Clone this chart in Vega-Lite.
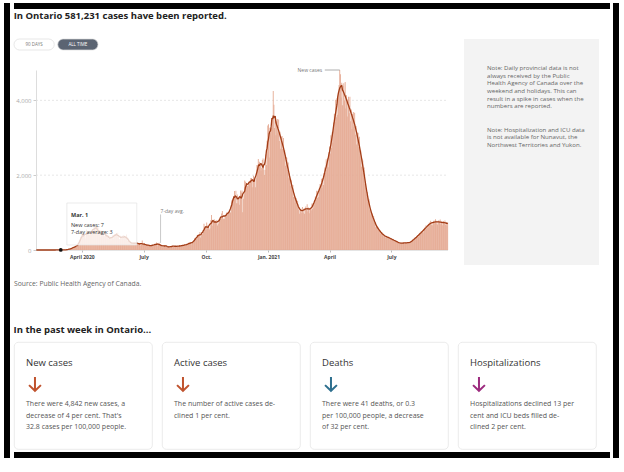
{
  "$schema": "https://vega.github.io/schema/vega-lite/v6.json",
  "padding": {"left": 4, "top": 3, "right": 2, "bottom": 2},
  "background": "#ffffff",
  "config": {"font": "Open Sans", "view": {"stroke": null}},
  "datasets": {
    "cases": [
      {"d":"2020-01-25","n":1},{"d":"2020-01-26","n":0},{"d":"2020-01-27","n":0},{"d":"2020-01-28","n":0},{"d":"2020-01-29","n":0},{"d":"2020-01-30","n":0},{"d":"2020-01-31","n":1},
      {"d":"2020-02-01","n":0},{"d":"2020-02-02","n":0},{"d":"2020-02-03","n":0},{"d":"2020-02-04","n":0},{"d":"2020-02-05","n":0},{"d":"2020-02-06","n":0},{"d":"2020-02-07","n":0},{"d":"2020-02-08","n":0},{"d":"2020-02-09","n":0},{"d":"2020-02-10","n":0},{"d":"2020-02-11","n":0},{"d":"2020-02-12","n":0},{"d":"2020-02-13","n":0},{"d":"2020-02-14","n":0},{"d":"2020-02-15","n":0},{"d":"2020-02-16","n":0},{"d":"2020-02-17","n":0},{"d":"2020-02-18","n":0},{"d":"2020-02-19","n":0},{"d":"2020-02-20","n":0},{"d":"2020-02-21","n":1},{"d":"2020-02-22","n":0},{"d":"2020-02-23","n":0},{"d":"2020-02-24","n":1},{"d":"2020-02-25","n":2},{"d":"2020-02-26","n":2},{"d":"2020-02-27","n":3},{"d":"2020-02-28","n":3},{"d":"2020-02-29","n":3},
      {"d":"2020-03-01","n":7},{"d":"2020-03-02","n":2},{"d":"2020-03-03","n":4},{"d":"2020-03-04","n":3},{"d":"2020-03-05","n":6},{"d":"2020-03-06","n":5},{"d":"2020-03-07","n":8},{"d":"2020-03-08","n":4},{"d":"2020-03-09","n":3},{"d":"2020-03-10","n":8},{"d":"2020-03-11","n":5},{"d":"2020-03-12","n":17},{"d":"2020-03-13","n":20},{"d":"2020-03-14","n":23},{"d":"2020-03-15","n":32},{"d":"2020-03-16","n":42},{"d":"2020-03-17","n":34},{"d":"2020-03-18","n":60},{"d":"2020-03-19","n":44},{"d":"2020-03-20","n":79},{"d":"2020-03-21","n":88},{"d":"2020-03-22","n":89},{"d":"2020-03-23","n":78},{"d":"2020-03-24","n":85},{"d":"2020-03-25","n":100},{"d":"2020-03-26","n":170},{"d":"2020-03-27","n":135},{"d":"2020-03-28","n":151},{"d":"2020-03-29","n":211},{"d":"2020-03-30","n":351},{"d":"2020-03-31","n":260},
      {"d":"2020-04-01","n":426},{"d":"2020-04-02","n":401},{"d":"2020-04-03","n":462},{"d":"2020-04-04","n":375},{"d":"2020-04-05","n":408},{"d":"2020-04-06","n":309},{"d":"2020-04-07","n":379},{"d":"2020-04-08","n":550},{"d":"2020-04-09","n":478},{"d":"2020-04-10","n":411},{"d":"2020-04-11","n":478},{"d":"2020-04-12","n":401},{"d":"2020-04-13","n":421},{"d":"2020-04-14","n":483},{"d":"2020-04-15","n":494},{"d":"2020-04-16","n":514},{"d":"2020-04-17","n":564},{"d":"2020-04-18","n":497},{"d":"2020-04-19","n":606},{"d":"2020-04-20","n":640},{"d":"2020-04-21","n":551},{"d":"2020-04-22","n":510},{"d":"2020-04-23","n":634},{"d":"2020-04-24","n":640},{"d":"2020-04-25","n":603},{"d":"2020-04-26","n":437},{"d":"2020-04-27","n":424},{"d":"2020-04-28","n":347},{"d":"2020-04-29","n":525},{"d":"2020-04-30","n":459},
      {"d":"2020-05-01","n":421},{"d":"2020-05-02","n":511},{"d":"2020-05-03","n":434},{"d":"2020-05-04","n":370},{"d":"2020-05-05","n":387},{"d":"2020-05-06","n":412},{"d":"2020-05-07","n":477},{"d":"2020-05-08","n":399},{"d":"2020-05-09","n":346},{"d":"2020-05-10","n":294},{"d":"2020-05-11","n":308},{"d":"2020-05-12","n":361},{"d":"2020-05-13","n":329},{"d":"2020-05-14","n":258},{"d":"2020-05-15","n":345},{"d":"2020-05-16","n":391},{"d":"2020-05-17","n":340},{"d":"2020-05-18","n":304},{"d":"2020-05-19","n":427},{"d":"2020-05-20","n":390},{"d":"2020-05-21","n":413},{"d":"2020-05-22","n":441},{"d":"2020-05-23","n":412},{"d":"2020-05-24","n":460},{"d":"2020-05-25","n":404},{"d":"2020-05-26","n":287},{"d":"2020-05-27","n":292},{"d":"2020-05-28","n":383},{"d":"2020-05-29","n":344},{"d":"2020-05-30","n":323},{"d":"2020-05-31","n":326},
      {"d":"2020-06-01","n":404},{"d":"2020-06-02","n":335},{"d":"2020-06-03","n":338},{"d":"2020-06-04","n":356},{"d":"2020-06-05","n":344},{"d":"2020-06-06","n":415},{"d":"2020-06-07","n":243},{"d":"2020-06-08","n":323},{"d":"2020-06-09","n":251},{"d":"2020-06-10","n":212},{"d":"2020-06-11","n":203},{"d":"2020-06-12","n":182},{"d":"2020-06-13","n":184},{"d":"2020-06-14","n":182},{"d":"2020-06-15","n":177},{"d":"2020-06-16","n":184},{"d":"2020-06-17","n":190},{"d":"2020-06-18","n":173},{"d":"2020-06-19","n":182},{"d":"2020-06-20","n":175},{"d":"2020-06-21","n":203},{"d":"2020-06-22","n":188},{"d":"2020-06-23","n":159},{"d":"2020-06-24","n":163},{"d":"2020-06-25","n":189},{"d":"2020-06-26","n":111},{"d":"2020-06-27","n":178},{"d":"2020-06-28","n":138},{"d":"2020-06-29","n":257},{"d":"2020-06-30","n":153},
      {"d":"2020-07-01","n":157},{"d":"2020-07-02","n":153},{"d":"2020-07-03","n":121},{"d":"2020-07-04","n":123},{"d":"2020-07-05","n":154},{"d":"2020-07-06","n":160},{"d":"2020-07-07","n":118},{"d":"2020-07-08","n":112},{"d":"2020-07-09","n":118},{"d":"2020-07-10","n":116},{"d":"2020-07-11","n":130},{"d":"2020-07-12","n":129},{"d":"2020-07-13","n":116},{"d":"2020-07-14","n":111},{"d":"2020-07-15","n":111},{"d":"2020-07-16","n":127},{"d":"2020-07-17","n":169},{"d":"2020-07-18","n":135},{"d":"2020-07-19","n":164},{"d":"2020-07-20","n":203},{"d":"2020-07-21","n":103},{"d":"2020-07-22","n":165},{"d":"2020-07-23","n":138},{"d":"2020-07-24","n":195},{"d":"2020-07-25","n":150},{"d":"2020-07-26","n":124},{"d":"2020-07-27","n":121},{"d":"2020-07-28","n":105},{"d":"2020-07-29","n":76},{"d":"2020-07-30","n":88},{"d":"2020-07-31","n":134},
      {"d":"2020-08-01","n":124},{"d":"2020-08-02","n":121},{"d":"2020-08-03","n":119},{"d":"2020-08-04","n":86},{"d":"2020-08-05","n":82},{"d":"2020-08-06","n":95},{"d":"2020-08-07","n":88},{"d":"2020-08-08","n":68},{"d":"2020-08-09","n":70},{"d":"2020-08-10","n":94},{"d":"2020-08-11","n":108},{"d":"2020-08-12","n":117},{"d":"2020-08-13","n":87},{"d":"2020-08-14","n":80},{"d":"2020-08-15","n":114},{"d":"2020-08-16","n":112},{"d":"2020-08-17","n":100},{"d":"2020-08-18","n":103},{"d":"2020-08-19","n":87},{"d":"2020-08-20","n":102},{"d":"2020-08-21","n":97},{"d":"2020-08-22","n":95},{"d":"2020-08-23","n":131},{"d":"2020-08-24","n":113},{"d":"2020-08-25","n":116},{"d":"2020-08-26","n":98},{"d":"2020-08-27","n":104},{"d":"2020-08-28","n":133},{"d":"2020-08-29","n":132},{"d":"2020-08-30","n":148},{"d":"2020-08-31","n":151},
      {"d":"2020-09-01","n":114},{"d":"2020-09-02","n":150},{"d":"2020-09-03","n":132},{"d":"2020-09-04","n":148},{"d":"2020-09-05","n":164},{"d":"2020-09-06","n":205},{"d":"2020-09-07","n":199},{"d":"2020-09-08","n":185},{"d":"2020-09-09","n":149},{"d":"2020-09-10","n":170},{"d":"2020-09-11","n":213},{"d":"2020-09-12","n":232},{"d":"2020-09-13","n":204},{"d":"2020-09-14","n":313},{"d":"2020-09-15","n":251},{"d":"2020-09-16","n":315},{"d":"2020-09-17","n":293},{"d":"2020-09-18","n":401},{"d":"2020-09-19","n":407},{"d":"2020-09-20","n":365},{"d":"2020-09-21","n":425},{"d":"2020-09-22","n":478},{"d":"2020-09-23","n":335},{"d":"2020-09-24","n":409},{"d":"2020-09-25","n":409},{"d":"2020-09-26","n":435},{"d":"2020-09-27","n":491},{"d":"2020-09-28","n":700},{"d":"2020-09-29","n":554},{"d":"2020-09-30","n":625},
      {"d":"2020-10-01","n":538},{"d":"2020-10-02","n":732},{"d":"2020-10-03","n":653},{"d":"2020-10-04","n":566},{"d":"2020-10-05","n":615},{"d":"2020-10-06","n":548},{"d":"2020-10-07","n":583},{"d":"2020-10-08","n":797},{"d":"2020-10-09","n":939},{"d":"2020-10-10","n":809},{"d":"2020-10-11","n":649},{"d":"2020-10-12","n":746},{"d":"2020-10-13","n":821},{"d":"2020-10-14","n":721},{"d":"2020-10-15","n":783},{"d":"2020-10-16","n":712},{"d":"2020-10-17","n":805},{"d":"2020-10-18","n":658},{"d":"2020-10-19","n":704},{"d":"2020-10-20","n":821},{"d":"2020-10-21","n":827},{"d":"2020-10-22","n":841},{"d":"2020-10-23","n":826},{"d":"2020-10-24","n":978},{"d":"2020-10-25","n":1042},{"d":"2020-10-26","n":851},{"d":"2020-10-27","n":827},{"d":"2020-10-28","n":834},{"d":"2020-10-29","n":934},{"d":"2020-10-30","n":896},{"d":"2020-10-31","n":977},
      {"d":"2020-11-01","n":1015},{"d":"2020-11-02","n":948},{"d":"2020-11-03","n":987},{"d":"2020-11-04","n":1050},{"d":"2020-11-05","n":998},{"d":"2020-11-06","n":1003},{"d":"2020-11-07","n":1132},{"d":"2020-11-08","n":1328},{"d":"2020-11-09","n":1242},{"d":"2020-11-10","n":1388},{"d":"2020-11-11","n":1426},{"d":"2020-11-12","n":1575},{"d":"2020-11-13","n":1396},{"d":"2020-11-14","n":1581},{"d":"2020-11-15","n":1248},{"d":"2020-11-16","n":1487},{"d":"2020-11-17","n":1249},{"d":"2020-11-18","n":1417},{"d":"2020-11-19","n":1210},{"d":"2020-11-20","n":1418},{"d":"2020-11-21","n":1588},{"d":"2020-11-22","n":1534},{"d":"2020-11-23","n":1589},{"d":"2020-11-24","n":1009},{"d":"2020-11-25","n":1373},{"d":"2020-11-26","n":1478},{"d":"2020-11-27","n":1855},{"d":"2020-11-28","n":1822},{"d":"2020-11-29","n":1708},{"d":"2020-11-30","n":1746},
      {"d":"2020-12-01","n":1707},{"d":"2020-12-02","n":1723},{"d":"2020-12-03","n":1824},{"d":"2020-12-04","n":1780},{"d":"2020-12-05","n":1859},{"d":"2020-12-06","n":1924},{"d":"2020-12-07","n":1925},{"d":"2020-12-08","n":1676},{"d":"2020-12-09","n":1890},{"d":"2020-12-10","n":1983},{"d":"2020-12-11","n":1848},{"d":"2020-12-12","n":1873},{"d":"2020-12-13","n":1677},{"d":"2020-12-14","n":1940},{"d":"2020-12-15","n":2275},{"d":"2020-12-16","n":2139},{"d":"2020-12-17","n":2432},{"d":"2020-12-18","n":2290},{"d":"2020-12-19","n":2357},{"d":"2020-12-20","n":2316},{"d":"2020-12-21","n":2123},{"d":"2020-12-22","n":2202},{"d":"2020-12-23","n":2408},{"d":"2020-12-24","n":2447},{"d":"2020-12-25","n":2159},{"d":"2020-12-26","n":2005},{"d":"2020-12-27","n":2142},{"d":"2020-12-28","n":2553},{"d":"2020-12-29","n":2275},{"d":"2020-12-30","n":2923},{"d":"2020-12-31","n":3328},
      {"d":"2021-01-01","n":3363},{"d":"2021-01-02","n":2476},{"d":"2021-01-03","n":3270},{"d":"2021-01-04","n":3128},{"d":"2021-01-05","n":3270},{"d":"2021-01-06","n":3266},{"d":"2021-01-07","n":3519},{"d":"2021-01-08","n":4249},{"d":"2021-01-09","n":3880},{"d":"2021-01-10","n":3263},{"d":"2021-01-11","n":3561},{"d":"2021-01-12","n":3065},{"d":"2021-01-13","n":3455},{"d":"2021-01-14","n":3501},{"d":"2021-01-15","n":3121},{"d":"2021-01-16","n":3488},{"d":"2021-01-17","n":2916},{"d":"2021-01-18","n":3162},{"d":"2021-01-19","n":2705},{"d":"2021-01-20","n":3028},{"d":"2021-01-21","n":3048},{"d":"2021-01-22","n":2698},{"d":"2021-01-23","n":2992},{"d":"2021-01-24","n":2492},{"d":"2021-01-25","n":2669},{"d":"2021-01-26","n":2253},{"d":"2021-01-27","n":2486},{"d":"2021-01-28","n":2466},{"d":"2021-01-29","n":2148},{"d":"2021-01-30","n":2342},{"d":"2021-01-31","n":1916},
      {"d":"2021-02-01","n":2042},{"d":"2021-02-02","n":1715},{"d":"2021-02-03","n":1884},{"d":"2021-02-04","n":1856},{"d":"2021-02-05","n":1607},{"d":"2021-02-06","n":1741},{"d":"2021-02-07","n":1414},{"d":"2021-02-08","n":1510},{"d":"2021-02-09","n":1271},{"d":"2021-02-10","n":1399},{"d":"2021-02-11","n":1382},{"d":"2021-02-12","n":1200},{"d":"2021-02-13","n":1315},{"d":"2021-02-14","n":1081},{"d":"2021-02-15","n":1152},{"d":"2021-02-16","n":967},{"d":"2021-02-17","n":1061},{"d":"2021-02-18","n":1100},{"d":"2021-02-19","n":1004},{"d":"2021-02-20","n":1149},{"d":"2021-02-21","n":988},{"d":"2021-02-22","n":1102},{"d":"2021-02-23","n":972},{"d":"2021-02-24","n":1123},{"d":"2021-02-25","n":1166},{"d":"2021-02-26","n":1066},{"d":"2021-02-27","n":1221},{"d":"2021-02-28","n":1032},
      {"d":"2021-03-01","n":1133},{"d":"2021-03-02","n":981},{"d":"2021-03-03","n":1112},{"d":"2021-03-04","n":1134},{"d":"2021-03-05","n":1062},{"d":"2021-03-06","n":1245},{"d":"2021-03-07","n":1096},{"d":"2021-03-08","n":1250},{"d":"2021-03-09","n":1125},{"d":"2021-03-10","n":1339},{"d":"2021-03-11","n":1431},{"d":"2021-03-12","n":1344},{"d":"2021-03-13","n":1581},{"d":"2021-03-14","n":1388},{"d":"2021-03-15","n":1581},{"d":"2021-03-16","n":1420},{"d":"2021-03-17","n":1669},{"d":"2021-03-18","n":1763},{"d":"2021-03-19","n":1637},{"d":"2021-03-20","n":1905},{"d":"2021-03-21","n":1665},{"d":"2021-03-22","n":1918},{"d":"2021-03-23","n":1741},{"d":"2021-03-24","n":2066},{"d":"2021-03-25","n":2203},{"d":"2021-03-26","n":2064},{"d":"2021-03-27","n":2427},{"d":"2021-03-28","n":2143},{"d":"2021-03-29","n":2452},{"d":"2021-03-30","n":2213},{"d":"2021-03-31","n":2612},
      {"d":"2021-04-01","n":2770},{"d":"2021-04-02","n":2582},{"d":"2021-04-03","n":3067},{"d":"2021-04-04","n":2732},{"d":"2021-04-05","n":3154},{"d":"2021-04-06","n":2867},{"d":"2021-04-07","n":3409},{"d":"2021-04-08","n":3642},{"d":"2021-04-09","n":3420},{"d":"2021-04-10","n":4020},{"d":"2021-04-11","n":3547},{"d":"2021-04-12","n":4058},{"d":"2021-04-13","n":3613},{"d":"2021-04-14","n":4211},{"d":"2021-04-15","n":4412},{"d":"2021-04-16","n":4812},{"d":"2021-04-17","n":4699},{"d":"2021-04-18","n":4078},{"d":"2021-04-19","n":4471},{"d":"2021-04-20","n":3867},{"d":"2021-04-21","n":4381},{"d":"2021-04-22","n":4460},{"d":"2021-04-23","n":3997},{"d":"2021-04-24","n":4491},{"d":"2021-04-25","n":3784},{"d":"2021-04-26","n":4138},{"d":"2021-04-27","n":3569},{"d":"2021-04-28","n":4031},{"d":"2021-04-29","n":4095},{"d":"2021-04-30","n":3659},
      {"d":"2021-05-01","n":4098},{"d":"2021-05-02","n":3445},{"d":"2021-05-03","n":3757},{"d":"2021-05-04","n":3232},{"d":"2021-05-05","n":3641},{"d":"2021-05-06","n":3688},{"d":"2021-05-07","n":3286},{"d":"2021-05-08","n":3669},{"d":"2021-05-09","n":3078},{"d":"2021-05-10","n":3318},{"d":"2021-05-11","n":2820},{"d":"2021-05-12","n":3135},{"d":"2021-05-13","n":3133},{"d":"2021-05-14","n":2752},{"d":"2021-05-15","n":3029},{"d":"2021-05-16","n":2502},{"d":"2021-05-17","n":2659},{"d":"2021-05-18","n":2227},{"d":"2021-05-19","n":2437},{"d":"2021-05-20","n":2393},{"d":"2021-05-21","n":2064},{"d":"2021-05-22","n":2206},{"d":"2021-05-23","n":1765},{"d":"2021-05-24","n":1825},{"d":"2021-05-25","n":1481},{"d":"2021-05-26","n":1566},{"d":"2021-05-27","n":1517},{"d":"2021-05-28","n":1288},{"d":"2021-05-29","n":1366},{"d":"2021-05-30","n":1083},{"d":"2021-05-31","n":1107},
      {"d":"2021-06-01","n":923},{"d":"2021-06-02","n":1005},{"d":"2021-06-03","n":983},{"d":"2021-06-04","n":842},{"d":"2021-06-05","n":903},{"d":"2021-06-06","n":724},{"d":"2021-06-07","n":751},{"d":"2021-06-08","n":611},{"d":"2021-06-09","n":649},{"d":"2021-06-10","n":643},{"d":"2021-06-11","n":561},{"d":"2021-06-12","n":611},{"d":"2021-06-13","n":500},{"d":"2021-06-14","n":530},{"d":"2021-06-15","n":443},{"d":"2021-06-16","n":483},{"d":"2021-06-17","n":473},{"d":"2021-06-18","n":406},{"d":"2021-06-19","n":436},{"d":"2021-06-20","n":364},{"d":"2021-06-21","n":394},{"d":"2021-06-22","n":337},{"d":"2021-06-23","n":376},{"d":"2021-06-24","n":378},{"d":"2021-06-25","n":334},{"d":"2021-06-26","n":370},{"d":"2021-06-27","n":308},{"d":"2021-06-28","n":332},{"d":"2021-06-29","n":282},{"d":"2021-06-30","n":314},
      {"d":"2021-07-01","n":314},{"d":"2021-07-02","n":276},{"d":"2021-07-03","n":304},{"d":"2021-07-04","n":251},{"d":"2021-07-05","n":269},{"d":"2021-07-06","n":227},{"d":"2021-07-07","n":250},{"d":"2021-07-08","n":248},{"d":"2021-07-09","n":216},{"d":"2021-07-10","n":235},{"d":"2021-07-11","n":193},{"d":"2021-07-12","n":204},{"d":"2021-07-13","n":170},{"d":"2021-07-14","n":185},{"d":"2021-07-15","n":192},{"d":"2021-07-16","n":176},{"d":"2021-07-17","n":201},{"d":"2021-07-18","n":172},{"d":"2021-07-19","n":193},{"d":"2021-07-20","n":169},{"d":"2021-07-21","n":195},{"d":"2021-07-22","n":202},{"d":"2021-07-23","n":184},{"d":"2021-07-24","n":210},{"d":"2021-07-25","n":181},{"d":"2021-07-26","n":202},{"d":"2021-07-27","n":177},{"d":"2021-07-28","n":205},{"d":"2021-07-29","n":212},{"d":"2021-07-30","n":207},{"d":"2021-07-31","n":253},
      {"d":"2021-08-01","n":231},{"d":"2021-08-02","n":272},{"d":"2021-08-03","n":252},{"d":"2021-08-04","n":305},{"d":"2021-08-05","n":331},{"d":"2021-08-06","n":315},{"d":"2021-08-07","n":375},{"d":"2021-08-08","n":335},{"d":"2021-08-09","n":389},{"d":"2021-08-10","n":356},{"d":"2021-08-11","n":426},{"d":"2021-08-12","n":458},{"d":"2021-08-13","n":432},{"d":"2021-08-14","n":510},{"d":"2021-08-15","n":452},{"d":"2021-08-16","n":519},{"d":"2021-08-17","n":470},{"d":"2021-08-18","n":556},{"d":"2021-08-19","n":593},{"d":"2021-08-20","n":556},{"d":"2021-08-21","n":652},{"d":"2021-08-22","n":575},{"d":"2021-08-23","n":656},{"d":"2021-08-24","n":591},{"d":"2021-08-25","n":696},{"d":"2021-08-26","n":738},{"d":"2021-08-27","n":686},{"d":"2021-08-28","n":785},{"d":"2021-08-29","n":673},{"d":"2021-08-30","n":751},{"d":"2021-08-31","n":660},
      {"d":"2021-09-01","n":760},{"d":"2021-09-02","n":787},{"d":"2021-09-03","n":717},{"d":"2021-09-04","n":819},{"d":"2021-09-05","n":703},{"d":"2021-09-06","n":783},{"d":"2021-09-07","n":681},{"d":"2021-09-08","n":777},{"d":"2021-09-09","n":797},{"d":"2021-09-10","n":719},{"d":"2021-09-11","n":813},{"d":"2021-09-12","n":691},{"d":"2021-09-13","n":763},{"d":"2021-09-14","n":664},{"d":"2021-09-15","n":757},{"d":"2021-09-16","n":776},{"d":"2021-09-17","n":700},{"d":"2021-09-18","n":791},{"d":"2021-09-19","n":673},{"d":"2021-09-20","n":743},{"d":"2021-09-21","n":646},{"d":"2021-09-22","n":736}
    ]
  },
  "spacing": 3,
  "hconcat": [
    {
      "width": 6, "height": 455,
      "view": {"fill": "#000000", "stroke": null},
      "data": {"values": [{"edge": "left"}]},
      "mark": {"type": "rect", "color": "#000000"},
      "encoding": {}
    },
    {
      "spacing": 2,
      "vconcat": [
        {
          "width": 596, "height": 6,
          "view": {"fill": "#000000", "stroke": null},
          "data": {"values": [{"edge": "top"}]},
          "mark": {"type": "rect", "color": "#000000"},
          "encoding": {}
        },
        {
          "spacing": 37,
          "vconcat": [
            {
              "title": {"text": "In Ontario 581,231 cases have been reported.", "anchor": "start", "fontSize": 9.5, "fontWeight": "bold", "color": "#222222", "offset": 18},
              "spacing": 13,
              "hconcat": [
                {
                  "spacing": 17,
                  "vconcat": [
                    {
                      "width": 84,
                      "height": 11,
                      "data": {"values": [{"b": "90 DAYS", "on": false}, {"b": "ALL TIME", "on": true}]},
                      "encoding": {"x": {"field": "b", "type": "nominal", "sort": null, "axis": null, "scale": {"paddingInner": 0.08, "paddingOuter": 0}}},
                      "layer": [
                        {"mark": {"type": "bar", "cornerRadius": 5.5, "stroke": "#dddddd", "strokeWidth": 0.7}, "encoding": {"fill": {"condition": {"test": "datum.on", "value": "#5b6472"}, "value": "#ffffff"}}},
                        {"mark": {"type": "text", "fontSize": 4.5}, "encoding": {"text": {"field": "b"}, "color": {"condition": {"test": "datum.on", "value": "#ffffff"}, "value": "#777777"}}}
                      ]
                    },
                    {
                      "width": 434,
                      "height": 180,
                      "data": {"name": "cases"},
                      "title": {"text": "Source: Public Health Agency of Canada.", "orient": "bottom", "anchor": "start", "frame": "bounds", "fontSize": 6.8, "fontWeight": "normal", "color": "#666666", "offset": 22},
                      "layer": [
                        {
                          "data": {"values": [{"g": 2000}, {"g": 4000}]},
                          "mark": {"type": "rule", "color": "#dddddd", "strokeWidth": 0.7, "strokeDash": [2, 2]},
                          "encoding": {
                            "x": {"datum": {"year": 2020, "month": 1, "date": 24, "hours": 12, "utc": true}, "type": "temporal"},
                            "x2": {"datum": {"year": 2021, "month": 9, "date": 22, "hours": 12, "utc": true}},
                            "y": {"field": "g", "type": "quantitative", "title": null}
                          }
                        },
                        {
                          "data": {"values": [{"g": 0}]},
                          "mark": {"type": "rule", "color": "#bbbbbb", "strokeWidth": 0.8},
                          "encoding": {
                            "x": {"datum": {"year": 2020, "month": 1, "date": 24, "hours": 12, "utc": true}, "type": "temporal"},
                            "x2": {"datum": {"year": 2021, "month": 9, "date": 22, "hours": 12, "utc": true}},
                            "y": {"field": "g", "type": "quantitative", "title": null}
                          }
                        },
                        {
                          "mark": {"type": "bar", "width": 0.9, "color": "#e5aa93"},
                          "encoding": {
                            "x": {"field": "d", "type": "temporal", "title": null,
                              "scale": {"type": "utc", "padding": 0, "domain": [{"year": 2019, "month": 12, "date": 23, "hours": 2, "utc": true}, {"year": 2021, "month": 9, "date": 22, "hours": 12, "utc": true}]},
                              "axis": {"values": [{"year": 2020, "month": 4, "date": 1, "utc": true}, {"year": 2020, "month": 7, "date": 1, "utc": true}, {"year": 2020, "month": 10, "date": 1, "utc": true}, {"year": 2021, "month": 1, "date": 1, "utc": true}, {"year": 2021, "month": 4, "date": 1, "utc": true}, {"year": 2021, "month": 7, "date": 1, "utc": true}],
                                "labelExpr": "utcmonth(datum.value) == 0 ? 'Jan. ' + utcyear(datum.value) : utcmonth(datum.value) == 3 ? (utcyear(datum.value) == 2020 ? 'April 2020' : 'April') : utcmonth(datum.value) == 6 ? 'July' : 'Oct.'",
                                "labelFontSize": 5, "labelFontWeight": "bold", "labelColor": "#444444", "labelPadding": 2, "tickSize": 2, "tickColor": "#bbbbbb", "domain": false, "grid": false, "labelOverlap": false}},
                            "y": {"field": "n", "type": "quantitative", "title": null,
                              "scale": {"domain": [0, 4812], "nice": false},
                              "axis": {"values": [0, 2000, 4000], "labelExpr": "format(datum.value, ',')", "offset": -22, "labelFontSize": 6, "labelColor": "#aaaaaa", "labelPadding": 2, "tickSize": 3, "tickColor": "#cccccc", "domainColor": "#dddddd", "grid": false}}
                          }
                        },
                        {
                          "transform": [{"window": [{"op": "mean", "field": "n", "as": "a"}], "frame": [-3, 3], "sort": [{"field": "d"}]}],
                          "mark": {"type": "line", "color": "#a33d17", "strokeWidth": 1.3},
                          "encoding": {"x": {"field": "d", "type": "temporal", "title": null}, "y": {"field": "a", "type": "quantitative", "title": null}}
                        },
                        {
                          "data": {"values": [{"box": "Mar. 1"}]},
                          "mark": {"type": "rect", "fill": "#ffffff", "fillOpacity": 0.78, "stroke": "#e3e3e3", "strokeWidth": 0.7},
                          "encoding": {
                            "x": {"datum": {"year": 2020, "month": 3, "date": 10, "utc": true}, "type": "temporal"},
                            "x2": {"datum": {"year": 2020, "month": 6, "date": 21, "utc": true}},
                            "y": {"datum": 1256, "type": "quantitative"},
                            "y2": {"datum": 134}
                          }
                        },
                        {
                          "data": {"values": [{"dot": "Mar. 1"}]},
                          "mark": {"type": "circle", "color": "#111111", "size": 14, "opacity": 1},
                          "encoding": {"x": {"datum": {"year": 2020, "month": 3, "date": 1, "utc": true}, "type": "temporal"}, "y": {"datum": 3, "type": "quantitative"}}
                        },
                        {
                          "data": {"values": [{"t": "Mar. 1"}]},
                          "mark": {"type": "text", "align": "left", "baseline": "middle", "fontSize": 5.5, "fontWeight": "bold", "color": "#333333"},
                          "encoding": {"text": {"field": "t"}, "x": {"datum": {"year": 2020, "month": 3, "date": 16, "utc": true}, "type": "temporal"}, "y": {"datum": 936, "type": "quantitative"}}
                        },
                        {
                          "data": {"values": [{"t": "New cases: 7"}]},
                          "mark": {"type": "text", "align": "left", "baseline": "middle", "fontSize": 5.5, "color": "#333333"},
                          "encoding": {"text": {"field": "t"}, "x": {"datum": {"year": 2020, "month": 3, "date": 16, "utc": true}, "type": "temporal"}, "y": {"datum": 668, "type": "quantitative"}}
                        },
                        {
                          "data": {"values": [{"t": "7-day average: 3"}]},
                          "mark": {"type": "text", "align": "left", "baseline": "middle", "fontSize": 5.5, "color": "#333333"},
                          "encoding": {"text": {"field": "t"}, "x": {"datum": {"year": 2020, "month": 3, "date": 16, "utc": true}, "type": "temporal"}, "y": {"datum": 481, "type": "quantitative"}}
                        },
                        {
                          "data": {"values": [{"t": "7-day avg."}]},
                          "mark": {"type": "rule", "color": "#bbbbbb", "strokeWidth": 0.8},
                          "encoding": {"x": {"datum": {"year": 2020, "month": 7, "date": 26, "utc": true}, "type": "temporal"}, "y": {"datum": 950, "type": "quantitative"}, "y2": {"datum": 190}}
                        },
                        {
                          "data": {"values": [{"t": "7-day avg."}]},
                          "mark": {"type": "text", "align": "left", "baseline": "middle", "fontSize": 5, "color": "#777777"},
                          "encoding": {"text": {"field": "t"}, "x": {"datum": {"year": 2020, "month": 7, "date": 26, "utc": true}, "type": "temporal"}, "y": {"datum": 1043, "type": "quantitative"}}
                        },
                        {
                          "data": {"values": [{"t": "New cases"}]},
                          "mark": {"type": "rule", "color": "#999999", "strokeWidth": 0.8},
                          "encoding": {"x": {"datum": {"year": 2021, "month": 3, "date": 25, "utc": true}, "type": "temporal"}, "x2": {"datum": {"year": 2021, "month": 4, "date": 16, "utc": true}}, "y": {"datum": 4812, "type": "quantitative"}}
                        },
                        {
                          "data": {"values": [{"t": "New cases"}]},
                          "mark": {"type": "text", "align": "right", "baseline": "middle", "fontSize": 5, "color": "#777777"},
                          "encoding": {"text": {"field": "t"}, "x": {"datum": {"year": 2021, "month": 3, "date": 21, "utc": true}, "type": "temporal"}, "y": {"datum": 4812, "type": "quantitative"}}
                        }
                      ]
                    }
                  ]
                },
                {
                  "width": 135,
                  "height": 226,
                  "data": {"values": [{"panel": "note"}]},
                  "mark": {"type": "rect", "color": "#f3f3f3"},
                  "encoding": {},
                  "title": {
                    "text": ["Note: Daily provincial data is not", "always received by the Public", "Health Agency of Canada over the", "weekend and holidays. This can", "result in a spike in cases when the", "numbers are reported."],
                    "subtitle": ["Note: Hospitalization and ICU data", "is not available for Nunavut, the", "Northwest Territories and Yukon."],
                    "anchor": "start", "dx": 23, "offset": -109, "fontSize": 6.1, "fontWeight": "normal", "color": "#666666", "lineHeight": 7.7,
                    "subtitleFontSize": 6.1, "subtitleColor": "#666666", "subtitleLineHeight": 7.7, "subtitlePadding": 17
                  }
                }
              ]
            },
            {
              "title": {"text": "In the past week in Ontario...", "anchor": "start", "fontSize": 9.5, "fontWeight": "bold", "color": "#222222", "offset": 7},
              "spacing": 8,
              "hconcat": [
                {
                  "width": 138, "height": 107,
                  "view": {"fill": "#ffffff", "stroke": "#e6e6e6", "strokeWidth": 0.8, "cornerRadius": 4},
                  "data": {"values": [{"card": "New cases"}]},
                  "mark": {"type": "point", "shape": "M0,-1V0.95M-0.85,0.15L0,0.97L0.85,0.15", "filled": false, "strokeWidth": 2, "size": 196, "color": "#c0532e", "opacity": 1},
                  "encoding": {"x": {"datum": 0.152, "type": "quantitative", "scale": {"domain": [0, 1]}, "axis": null}, "y": {"datum": 0.607, "type": "quantitative", "scale": {"domain": [0, 1]}, "axis": null}},
                  "title": {"text": "New cases", "subtitle": ["There were 4,842 new cases, a", "decrease of 4 per cent. That's", "32.8 cases per 100,000 people."], "anchor": "start", "dx": 12, "offset": -88, "fontSize": 9.5, "fontWeight": "normal", "color": "#333333", "subtitleFontSize": 7, "subtitleColor": "#555555", "subtitleLineHeight": 11.5, "subtitlePadding": 33}
                },
                {
                  "width": 138, "height": 107,
                  "view": {"fill": "#ffffff", "stroke": "#e6e6e6", "strokeWidth": 0.8, "cornerRadius": 4},
                  "data": {"values": [{"card": "Active cases"}]},
                  "mark": {"type": "point", "shape": "M0,-1V0.95M-0.85,0.15L0,0.97L0.85,0.15", "filled": false, "strokeWidth": 2, "size": 196, "color": "#c0532e", "opacity": 1},
                  "encoding": {"x": {"datum": 0.152, "type": "quantitative", "scale": {"domain": [0, 1]}, "axis": null}, "y": {"datum": 0.607, "type": "quantitative", "scale": {"domain": [0, 1]}, "axis": null}},
                  "title": {"text": "Active cases", "subtitle": ["The number of active cases de-", "clined 1 per cent."], "anchor": "start", "dx": 12, "offset": -76.5, "fontSize": 9.5, "fontWeight": "normal", "color": "#333333", "subtitleFontSize": 7, "subtitleColor": "#555555", "subtitleLineHeight": 11.5, "subtitlePadding": 33}
                },
                {
                  "width": 138, "height": 107,
                  "view": {"fill": "#ffffff", "stroke": "#e6e6e6", "strokeWidth": 0.8, "cornerRadius": 4},
                  "data": {"values": [{"card": "Deaths"}]},
                  "mark": {"type": "point", "shape": "M0,-1V0.95M-0.85,0.15L0,0.97L0.85,0.15", "filled": false, "strokeWidth": 2, "size": 196, "color": "#2d6f8e", "opacity": 1},
                  "encoding": {"x": {"datum": 0.152, "type": "quantitative", "scale": {"domain": [0, 1]}, "axis": null}, "y": {"datum": 0.607, "type": "quantitative", "scale": {"domain": [0, 1]}, "axis": null}},
                  "title": {"text": "Deaths", "subtitle": ["There were 41 deaths, or 0.3", "per 100,000 people, a decrease", "of 32 per cent."], "anchor": "start", "dx": 12, "offset": -88, "fontSize": 9.5, "fontWeight": "normal", "color": "#333333", "subtitleFontSize": 7, "subtitleColor": "#555555", "subtitleLineHeight": 11.5, "subtitlePadding": 33}
                },
                {
                  "width": 138, "height": 107,
                  "view": {"fill": "#ffffff", "stroke": "#e6e6e6", "strokeWidth": 0.8, "cornerRadius": 4},
                  "data": {"values": [{"card": "Hospitalizations"}]},
                  "mark": {"type": "point", "shape": "M0,-1V0.95M-0.85,0.15L0,0.97L0.85,0.15", "filled": false, "strokeWidth": 2, "size": 196, "color": "#9c2b7e", "opacity": 1},
                  "encoding": {"x": {"datum": 0.152, "type": "quantitative", "scale": {"domain": [0, 1]}, "axis": null}, "y": {"datum": 0.607, "type": "quantitative", "scale": {"domain": [0, 1]}, "axis": null}},
                  "title": {"text": "Hospitalizations", "subtitle": ["Hospitalizations declined 13 per", "cent and ICU beds filled de-", "clined 2 per cent."], "anchor": "start", "dx": 12, "offset": -88, "fontSize": 9.5, "fontWeight": "normal", "color": "#333333", "subtitleFontSize": 7, "subtitleColor": "#555555", "subtitleLineHeight": 11.5, "subtitlePadding": 33}
                }
              ]
            }
          ]
        },
        {
          "width": 596, "height": 6,
          "view": {"fill": "#000000", "stroke": null},
          "data": {"values": [{"edge": "bottom"}]},
          "mark": {"type": "rect", "color": "#000000"},
          "encoding": {}
        }
      ]
    },
    {
      "width": 6, "height": 455,
      "view": {"fill": "#000000", "stroke": null},
      "data": {"values": [{"edge": "right"}]},
      "mark": {"type": "rect", "color": "#000000"},
      "encoding": {}
    }
  ]
}
